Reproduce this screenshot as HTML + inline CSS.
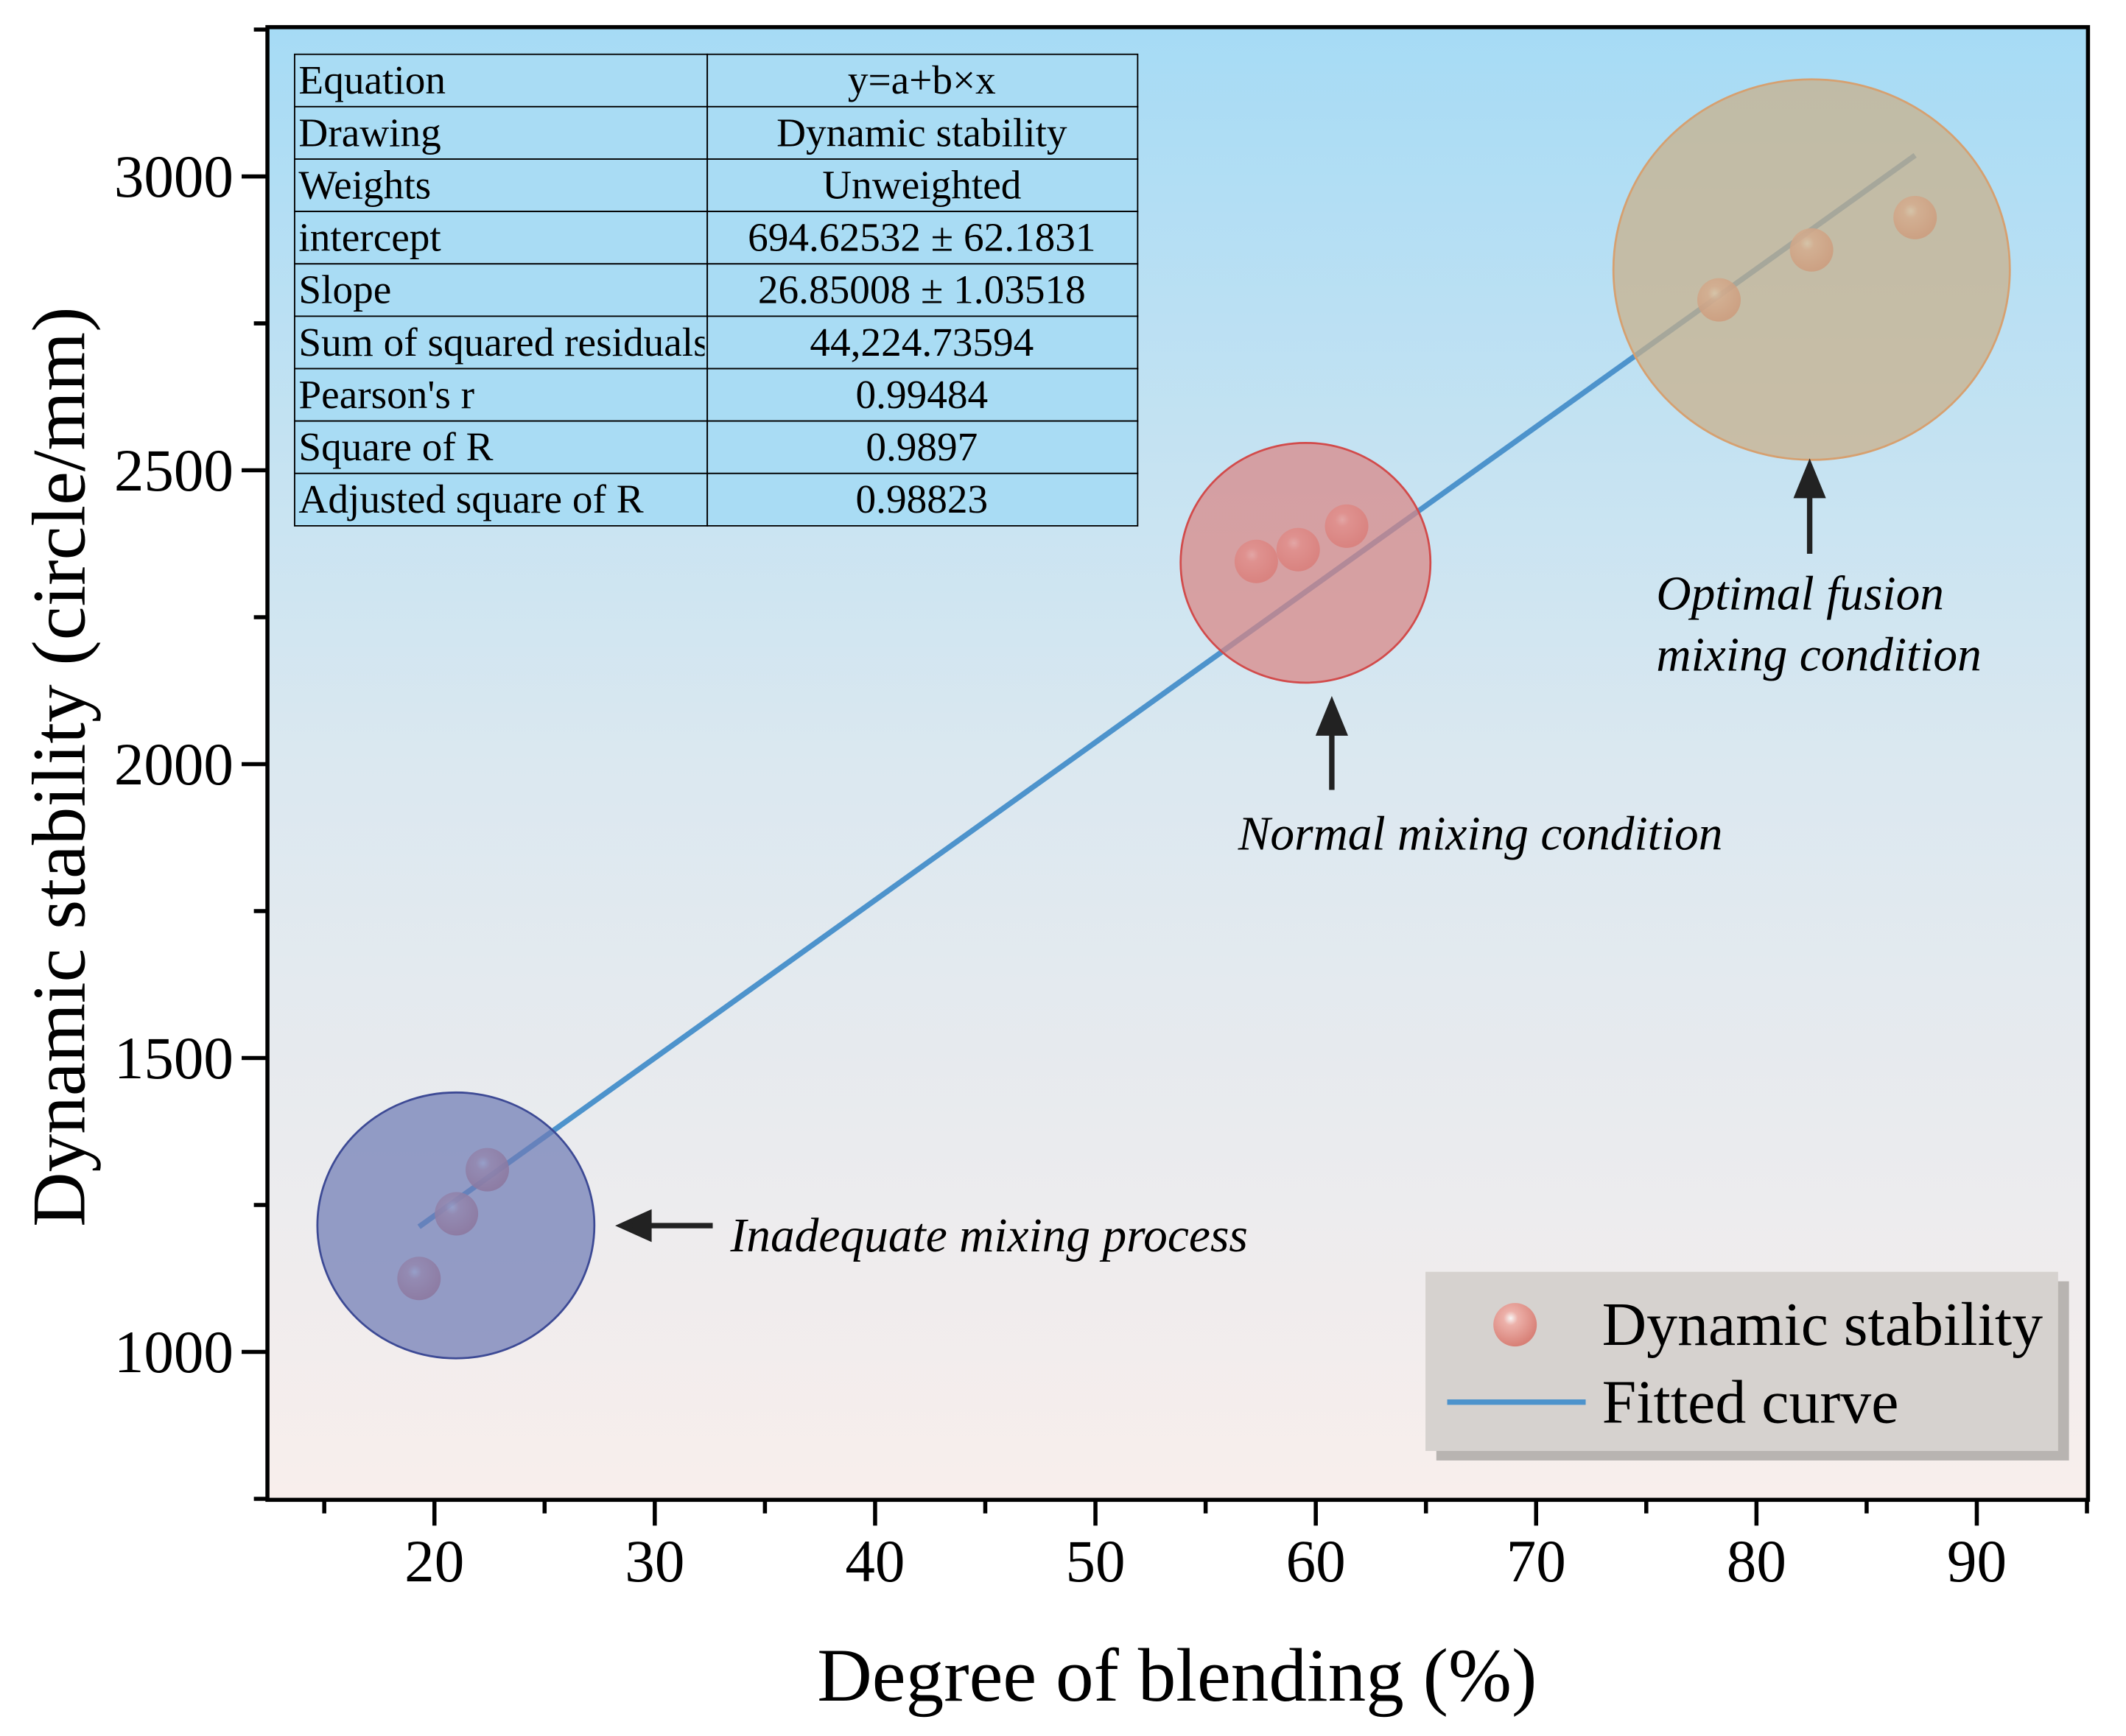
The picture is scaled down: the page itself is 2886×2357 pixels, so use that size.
<!DOCTYPE html>
<html><head><meta charset="utf-8"><style>
html,body{margin:0;padding:0;background:#fff}
svg{display:block}
text{font-family:"Liberation Serif",serif;fill:#000}
</style></head><body>
<svg id="chart" width="2886" height="2357" viewBox="0 0 1566 1279" preserveAspectRatio="none" xmlns="http://www.w3.org/2000/svg">
<defs>
<linearGradient id="bg" x1="0" y1="0" x2="0" y2="1">
<stop offset="0" stop-color="#a6dbf5"/><stop offset="0.5" stop-color="#dbe8f0"/><stop offset="1" stop-color="#f8eeec"/>
</linearGradient>
<radialGradient id="ball" cx="0.4" cy="0.35" r="0.65">
<stop offset="0" stop-color="#fff"/><stop offset="0.25" stop-color="#f2a8a0"/><stop offset="1" stop-color="#d86b60"/>
</radialGradient>
<clipPath id="cellclip"><rect x="217" y="0" width="302" height="1279"/></clipPath>
</defs>
<rect x="197" y="20" width="1341" height="1085" fill="url(#bg)"/>
<g id="marks"></g>
<g id="circles"></g>
<g id="table"></g>
<g font-size="35.5">
<text x="538" y="922" font-style="italic">Inadequate mixing process</text>
<text x="912" y="626" font-style="italic">Normal mixing condition</text>
<text x="1220" y="449" font-style="italic">Optimal fusion</text>
<text x="1220" y="494" font-style="italic">mixing condition</text>
<g stroke="#222" stroke-width="4" fill="#222">
<line x1="525" y1="903" x2="472" y2="903"/><polygon points="458,903 478,894 478,912"/>
<line x1="981" y1="582" x2="981" y2="533"/><polygon points="981,518 972,540 990,540"/>
<line x1="1333" y1="408" x2="1333" y2="358"/><polygon points="1333,343 1324,365 1342,365"/>
</g>
</g>
<g>
<rect x="1058" y="944" width="466" height="132" fill="#b8b4b1"/>
<rect x="1050" y="937" width="466" height="132" fill="#d6d2cf"/>
<circle cx="1116" cy="976" r="16" fill="url(#ball)" opacity="0.8"/>
<text x="1180" y="991" font-size="45.5">Dynamic stability</text>
<line x1="1066" y1="1033" x2="1168" y2="1033" stroke="#4d93cc" stroke-width="4"/>
<text x="1180" y="1048" font-size="45.5">Fitted curve</text>
</g>
<g id="axes"></g>
<text x="867" y="1253" font-size="56" text-anchor="middle">Degree of blending (%)</text>
<text transform="translate(62,565) rotate(-90)" font-size="56" text-anchor="middle">Dynamic stability (circle/mm)</text>
</svg>
<script>
const xs=[19.3,21.0,22.4,57.3,59.2,61.4,78.3,82.5,87.2];
const ys=[1125,1235,1310,2345,2365,2405,2790,2875,2930];
const intercept=694.62532, slope=26.85008;
const xTicks=[20,30,40,50,60,70,80,90];
const yTicks=[1000,1500,2000,2500,3000];
const rows=[["Equation","y=a+b×x"],["Drawing","Dynamic stability"],["Weights","Unweighted"],["intercept","694.62532 ± 62.1831"],["Slope","26.85008 ± 1.03518"],["Sum of squared residuals","44,224.73594"],["Pearson's r","0.99484"],["Square of R","0.9897"],["Adjusted square of R","0.98823"]];
const NS="http://www.w3.org/2000/svg";
const X=v=>320+(v-20)*16.23, Y=v=>996-(v-1000)*0.433;
function mk(t,a,p){const e=document.createElementNS(NS,t);for(const k in a)e.setAttribute(k,a[k]);p.appendChild(e);return e;}
const marks=document.getElementById('marks');
const x0=Math.min(...xs),x1=Math.max(...xs);
const fl=mk('line',{x1:X(x0),y1:Y(intercept+slope*x0),x2:X(x1),y2:Y(intercept+slope*x1),stroke:'#4d93cc','stroke-width':4},marks);


xs.forEach((v,i)=>{
 const c=mk('circle',{cx:X(v),cy:Y(ys[i]),r:16,fill:'url(#ball)',opacity:0.85},marks);
 
 
});
const circ=document.getElementById('circles');
const groups=[[0,3,'#6f7cb5','#3d4a95','cluster-inadequate',102,2,1],[3,6,'#d98584','#d24b4b','cluster-normal',92,3,14],[6,9,'#c9ae88','#d6a070','cluster-optimal',146,-4,8]];
groups.forEach(g=>{
 const sx=xs.slice(g[0],g[1]),sy=ys.slice(g[0],g[1]);
 const cx=(Math.min(...sx)+Math.max(...sx))/2,cy=(Math.min(...sy)+Math.max(...sy))/2;
 const e=mk('ellipse',{cx:X(cx)+g[6],cy:Y(cy)+g[7],rx:g[5],ry:g[5]*0.96,fill:g[2],'fill-opacity':0.72,stroke:g[3],'stroke-width':1.5},circ);
 
 
});
const tb=document.getElementById('table');
const rh=38.6;
rows.forEach((r,i)=>{
 const y=40+i*rh;
 mk('rect',{x:217,y:y,width:304,height:rh,fill:'#a9dcf4',stroke:'#000','stroke-width':1},tb);
 mk('rect',{x:521,y:y,width:317,height:rh,fill:'#a9dcf4',stroke:'#000','stroke-width':1},tb);
 const a=mk('text',{x:220,y:y+29,'font-size':30,'clip-path':'url(#cellclip)'},tb);a.textContent=r[0];
 
 
 const b=mk('text',{x:679,y:y+29,'font-size':30,'text-anchor':'middle'},tb);b.textContent=r[1];
 
 
});
const ax=document.getElementById('axes');
mk('rect',{x:197,y:20,width:1341,height:1085,fill:'none',stroke:'#000','stroke-width':3},ax);
xTicks.forEach(v=>{
 mk('line',{x1:X(v),y1:1105,x2:X(v),y2:1124,stroke:'#000','stroke-width':3},ax);
 mk('line',{x1:X(v-5),y1:1105,x2:X(v-5),y2:1115,stroke:'#000','stroke-width':3},ax);
 const t=mk('text',{x:X(v),y:1165,'font-size':44,'text-anchor':'middle'},ax);t.textContent=v;
 
 
});
mk('line',{x1:X(95),y1:1105,x2:X(95),y2:1115,stroke:'#000','stroke-width':3},ax);
yTicks.forEach(v=>{
 mk('line',{x1:197,y1:Y(v),x2:178,y2:Y(v),stroke:'#000','stroke-width':3},ax);
 mk('line',{x1:197,y1:Y(v+250),x2:187,y2:Y(v+250),stroke:'#000','stroke-width':3},ax);
 const t=mk('text',{x:172,y:Y(v)+15,'font-size':44,'text-anchor':'end'},ax);t.textContent=v;
 
 
});
mk('line',{x1:197,y1:Y(750),x2:187,y2:Y(750),stroke:'#000','stroke-width':3},ax);
</script>
</body></html>
